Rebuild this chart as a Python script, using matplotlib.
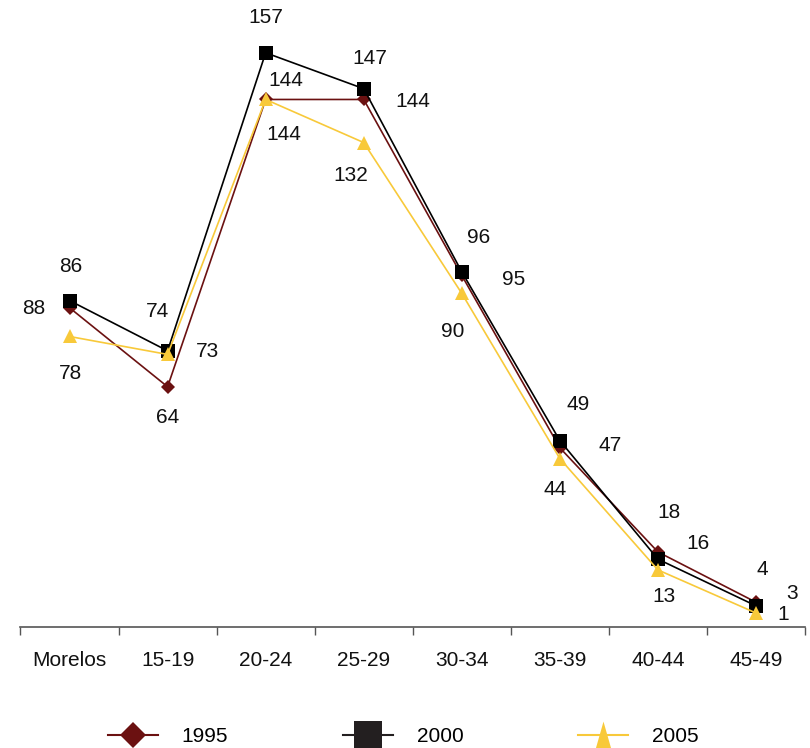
import numpy as np
import matplotlib
matplotlib.use('Agg')
import matplotlib.pyplot as plt
from matplotlib.lines import Line2D

plt.rcParams['font.family'] = ['Liberation Sans', 'DejaVu Sans']

categories = ['Morelos', '15-19', '20-24', '25-29', '30-34', '35-39', '40-44', '45-49']
years = ['1995', '2000', '2005']
v1995 = [86, 64, 144, 144, 95, 47, 18, 4]
v2000 = [88, 74, 157, 147, 96, 49, 16, 3]
v2005 = [78, 73, 144, 132, 90, 44, 13, 1]

colors = ['#6B1111', '#000000', '#F8C93A']
markers = ['D', 's', '^']
msizes = [7, 10, 9.5]

# label offsets in pixels (dx, dy) relative to each point
off1995 = [(1, 41), (0, -31), (20, 19), (49, -2), (52, -4), (50, 2), (11, 39), (6, 33)]
off2000 = [(-36, -8), (-10, 39), (0, 35), (6, 30), (17, 34), (18, 36), (40, 16), (36, 12)]
off2005 = [(1, -37), (40, 3), (18, -35), (-13, -33), (-9, -38), (-5, -31), (6, -27), (27, -2)]

series = [v1995, v2000, v2005]
offsets = [off1995, off2000, off2005]

fig = plt.figure(figsize=(8.1, 7.48), dpi=100)
ax = fig.add_axes([20.5 / 810, 121 / 748, (805 - 20.5) / 810, 1 - 121 / 748])

x = np.arange(len(categories))
for k in range(3):
    ax.plot(x, series[k], color=colors[k], lw=1.2, marker=markers[k],
            markersize=msizes[k], markeredgewidth=0, label=years[k], zorder=2 + k)

for k in range(3):
    for i in range(len(categories)):
        ax.annotate(str(series[k][i]), (x[i], series[k][i]),
                    xytext=offsets[k][i], textcoords='offset pixels',
                    ha='center', va='center', fontsize=15, color='#111111')

ax.set_xlim(-0.5, len(categories) - 0.5)
ax.set_ylim(-2.9, 171.7)

for s in ['top', 'right', 'left']:
    ax.spines[s].set_visible(False)
ax.spines['bottom'].set_color('#555555')
ax.spines['bottom'].set_linewidth(1.2)
ax.set_yticks([])

ax.set_xticks(np.arange(len(categories) + 1) - 0.5)
ax.set_xticklabels([])
ax.tick_params(axis='x', which='major', length=6, width=1, color='#555555', direction='out')
ax.set_xticks(x, minor=True)
ax.set_xticklabels(categories, minor=True, fontsize=15, color='#111111')
ax.tick_params(axis='x', which='minor', length=0, pad=17)

# legend with bigger markers, narrow tall triangle like the original
leg_markers = ['D', 's', [(0, 1), (-0.57, -1), (0.57, -1)]]
leg_sizes = [13.7, 20, 20]
leg_colors = ['#6B1111', '#231F20', '#F8C93A']
handles = [Line2D([], [], color=leg_colors[k], lw=1.5, marker=leg_markers[k],
                  markersize=leg_sizes[k], markeredgewidth=0) for k in range(3)]
fig.legend(handles, years, loc='center', bbox_to_anchor=(403 / 810, 1 - 737 / 748), ncol=3,
           frameon=False, fontsize=15, handlelength=2.4,
           handletextpad=1.15, columnspacing=5.5)

plt.savefig('out.png', dpi=100)
plt.close()
